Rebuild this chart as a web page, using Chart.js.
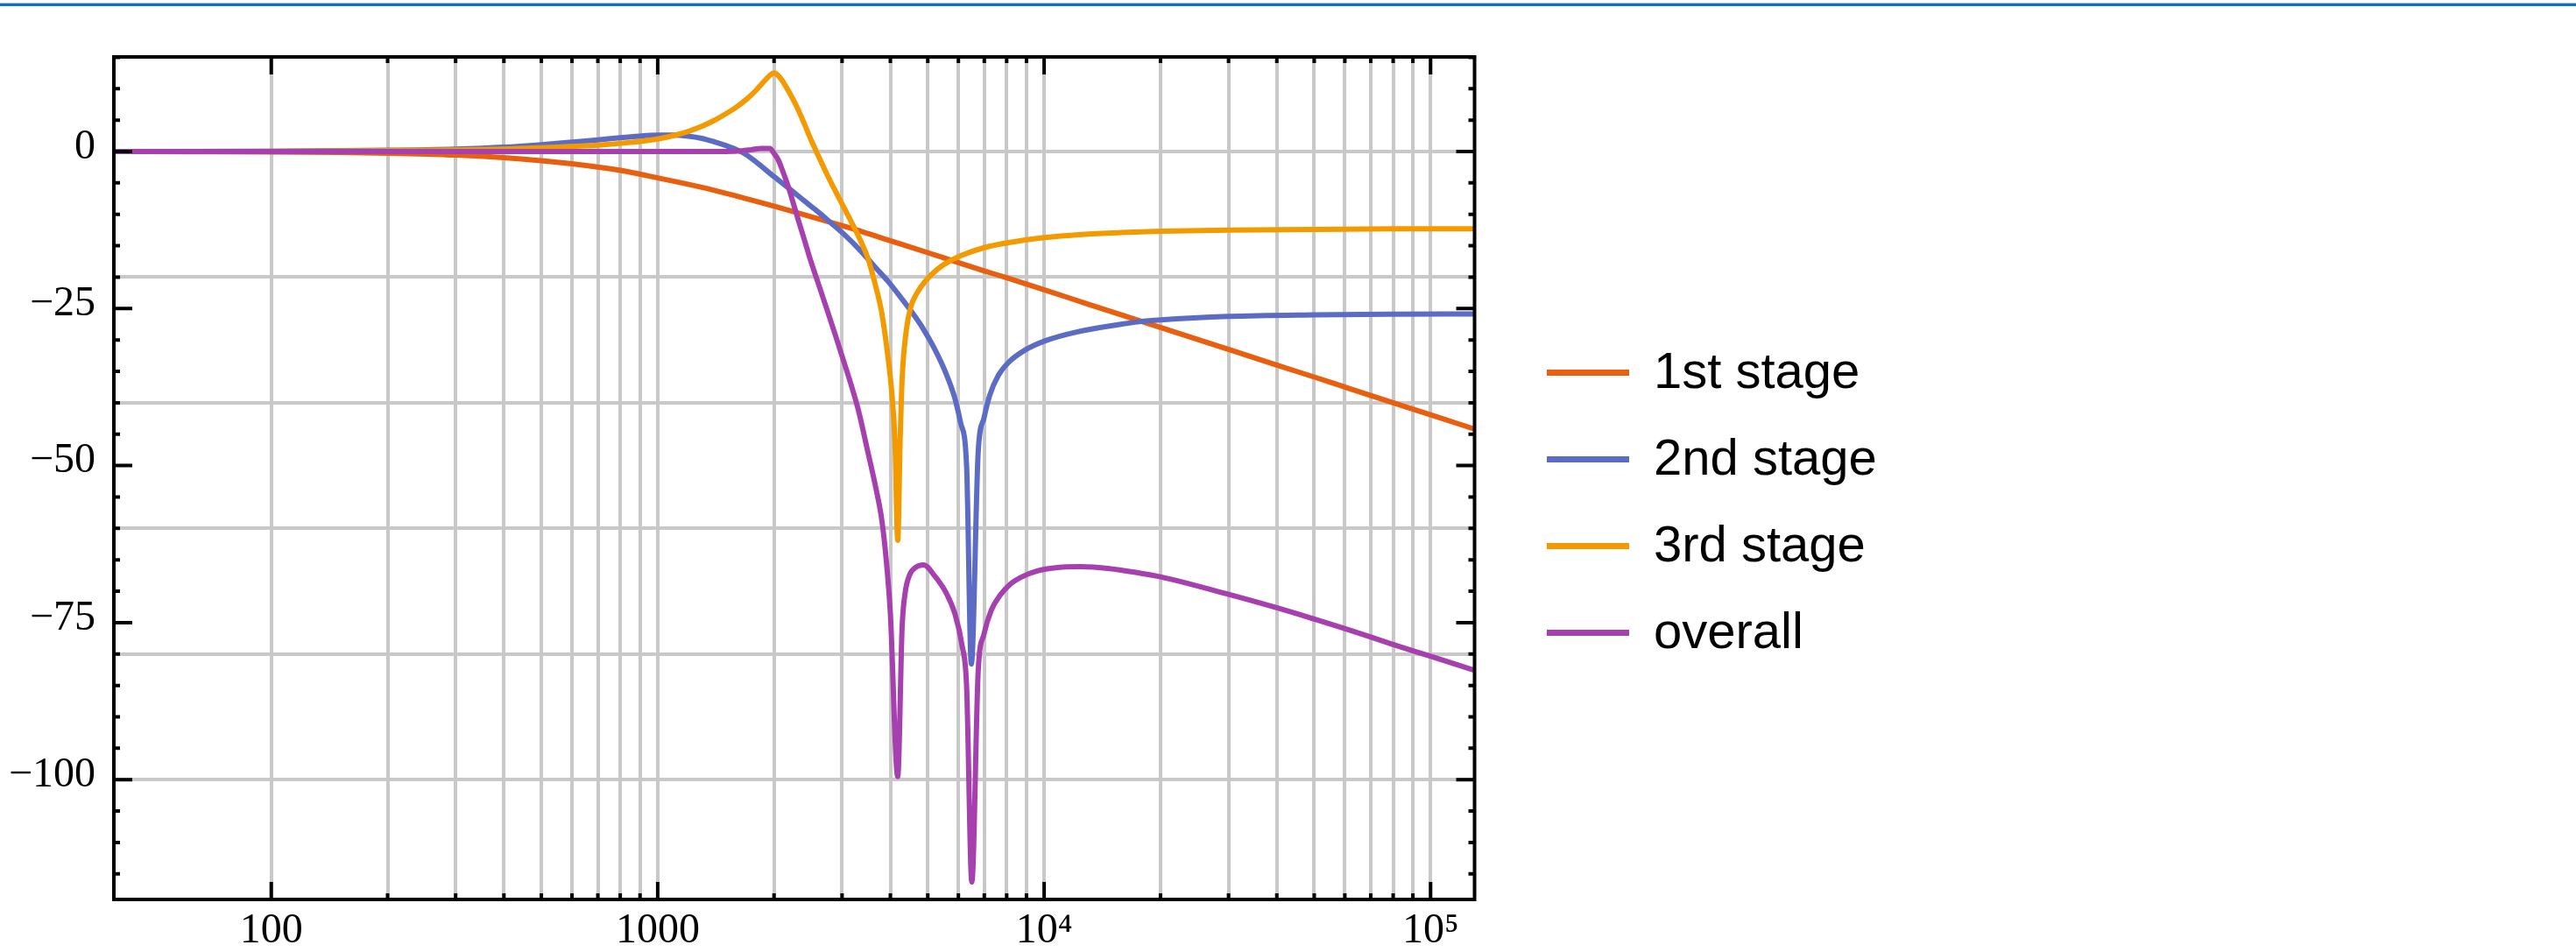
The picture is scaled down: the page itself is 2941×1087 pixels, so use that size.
<!DOCTYPE html>
<html>
<head>
<meta charset="utf-8">
<script src="https://cdn.jsdelivr.net/npm/chart.js@4.4.1/dist/chart.umd.min.js"></script>
<style>
  html, body { margin: 0; padding: 0; background: #ffffff; width: 2941px; height: 1087px; overflow: hidden; }
  #wrap { position: relative; width: 2941px; height: 1087px; }
  #c { position: absolute; left: 0; top: 0; }
  #barLight { position: absolute; left: 0; top: 3px; width: 2941px; height: 1px; background: #9fcdf1; }
  #barDark { position: absolute; left: 0; top: 4px; width: 2941px; height: 3px; background: #0b73c6; }
  .lgLine { position: absolute; left: 1766px; width: 94px; height: 7px; }
  .lgText { position: absolute; left: 1888px; font-family: "Liberation Sans", Arial, sans-serif; font-size: 58px; line-height: 58px; color: #000; white-space: nowrap; }
</style>
</head>
<body>
<div id="wrap">
  <canvas id="c" width="2941" height="1087"></canvas>
  <div id="barLight"></div>
  <div id="barDark"></div>
  <div id="legend"></div>
</div>
<script>
// ---------------- data ----------------
const seriesNames = ["1st stage", "2nd stage", "3rd stage", "overall"];

const stage1Freq = [39, 60, 100, 150, 200, 300, 400, 500, 600, 800, 1000, 1300, 1600, 2000, 2500, 3000, 3400, 4000, 5000, 6000, 7000, 8000, 10000, 13000, 16000, 20000, 30000, 40000, 50000, 60000, 80000, 100000, 130000];
const stage1Db = [0, -0.03, -0.07, -0.15, -0.26, -0.56, -0.97, -1.45, -1.94, -3.0, -4.2, -5.7, -7.1, -8.7, -10.4, -11.8, -12.8, -14.2, -16.1, -17.7, -19.0, -20.1, -22.0, -24.3, -26.1, -28.0, -31.5, -34.0, -35.9, -37.5, -40.0, -41.9, -44.2];

const stage2Freq = [39, 100, 200, 300, 400, 500, 600, 700, 800, 900, 1000, 1100, 1200, 1300, 1400, 1500, 1600, 1700, 1800, 2000, 2200, 2400, 2600, 2800, 3050, 3350, 3670, 3930, 4290, 4520, 4840, 5200, 5570, 5870, 6080, 6300, 6480, 6750, 6990, 7230, 7620, 8080, 8930, 10100, 12200, 15800, 17600, 20000, 30000, 50000, 80000, 130000];
const stage2Db = [0, 0.05, 0.2, 0.4, 0.7, 1.1, 1.5, 1.85, 2.2, 2.45, 2.6, 2.62, 2.45, 2.1, 1.55, 0.95, 0.3, -0.55, -1.7, -4.0, -6.0, -7.9, -9.6, -11.3, -13.3, -15.8, -18.55, -20.55, -23.5, -25.35, -28.0, -31.35, -35.3, -39.2, -43.2, -50.0, -81.6, -47.9, -42.4, -38.8, -35.6, -33.6, -31.6, -30.1, -28.7, -27.5, -27.1, -26.8, -26.25, -26.0, -25.9, -25.85];

const stage3Freq = [39, 100, 200, 300, 400, 550, 700, 850, 1000, 1100, 1200, 1300, 1400, 1500, 1600, 1700, 1800, 1900, 1950, 2000, 2050, 2100, 2200, 2300, 2400, 2500, 2600, 2750, 2900, 3050, 3200, 3350, 3500, 3650, 3800, 3930, 4040, 4110, 4180, 4240, 4290, 4400, 4520, 4680, 4930, 5280, 5570, 6080, 7000, 8100, 10000, 12500, 15800, 20000, 30000, 50000, 80000, 130000];
const stage3Db = [0, 0.05, 0.15, 0.25, 0.4, 0.7, 1.0, 1.45, 2.0, 2.55, 3.2, 4.0, 4.95, 6.0, 7.1, 8.35, 9.8, 11.4, 12.1, 12.5, 12.1, 11.3, 9.2, 6.9, 4.3, 1.7, -0.6, -3.8, -6.6, -9.2, -11.7, -14.2, -17.0, -21.0, -25.7, -32.0, -38.8, -46.0, -61.9, -46.0, -36.3, -28.4, -24.7, -22.6, -20.6, -18.8, -17.8, -16.6, -15.3, -14.5, -13.7, -13.2, -12.9, -12.7, -12.5, -12.4, -12.3, -12.3];

const overallFreq = [39, 300, 1000, 1500, 1650, 1750, 1850, 1950, 2000, 2050, 2100, 2180, 2240, 2290, 2350, 2410, 2480, 2600, 2730, 2880, 3030, 3190, 3310, 3480, 3670, 3800, 3900, 4000, 4180, 4290, 4370, 4480, 4680, 4880, 5200, 5570, 5870, 6130, 6300, 6500, 6750, 6990, 7300, 7680, 8160, 8760, 9560, 10600, 12400, 14750, 17600, 20000, 29600, 39800, 49800, 60400, 79300, 99300, 130000];
const overallDb = [0, 0, 0, 0, 0.1, 0.3, 0.5, 0.5, -0.3, -1.3, -2.9, -5.7, -8.1, -10.1, -12.35, -14.55, -17.1, -20.9, -24.8, -29.15, -33.4, -37.8, -41.3, -47.2, -53.6, -58.6, -64.8, -73.5, -99.5, -75.8, -70.2, -67.5, -66.1, -65.8, -67.5, -70.2, -73.5, -78.6, -85.1, -116.3, -82.8, -76.8, -73.0, -70.7, -68.9, -67.7, -66.8, -66.3, -66.1, -66.4, -67.1, -67.7, -70.4, -72.6, -74.4, -76.0, -78.4, -80.3, -82.6];

// axis ticks and labels
const xTickValues = [100, 200, 300, 400, 500, 600, 700, 800, 900, 1000, 2000, 3000, 4000, 5000, 6000, 7000, 8000, 9000, 10000, 20000, 30000, 40000, 50000, 60000, 70000, 80000, 90000, 100000];
const xLabelValues = [100, 1000, 10000, 100000];
const xLabelTexts = ["100", "1000", "10\u2074", "10\u2075"];
const yTickValues = [-115, -110, -105, -100, -95, -90, -85, -80, -75, -70, -65, -60, -55, -50, -45, -40, -35, -30, -25, -20, -15, -10, -5, 0, 5, 10, 15];
const yLabelValues = [0, -25, -50, -75, -100];
const yLabelTexts = ["0", "\u221225", "\u221250", "\u221275", "\u2212100"];
const yGridValues = [0, -20, -40, -60, -80, -100];
const xRange = [39.15, 129960];
const yRange = [-119.07, 15.06];

// ---------------- chart ----------------
function pts(fs, ds) { return fs.map((f, i) => ({ x: f, y: ds[i] })); }

const tickFont = { family: '"Liberation Serif", "Times New Roman", serif', size: 48 };

const framePlugin = {
  id: 'frameTicks',
  afterDatasetsDraw(chart) {
    const { ctx, chartArea: a, scales } = chart;
    const xs = scales.x, ys = scales.y;
    ctx.save();
    ctx.strokeStyle = '#000';
    ctx.lineWidth = 4;
    ctx.lineCap = 'butt';
    ctx.beginPath();
    xTickValues.forEach(v => {
      const px = xs.getPixelForValue(v);
      if (px < a.left || px > a.right) return;
      const len = xLabelValues.includes(v) ? 20 : 7;
      ctx.moveTo(px, a.bottom); ctx.lineTo(px, a.bottom - len);
      ctx.moveTo(px, a.top); ctx.lineTo(px, a.top + len);
    });
    yTickValues.forEach(v => {
      const py = ys.getPixelForValue(v);
      if (py < a.top || py > a.bottom) return;
      const len = yLabelValues.includes(v) ? 21 : 7;
      ctx.moveTo(a.left, py); ctx.lineTo(a.left + len, py);
      ctx.moveTo(a.right, py); ctx.lineTo(a.right - len, py);
    });
    ctx.stroke();
    ctx.lineJoin = 'miter';
    ctx.strokeRect(a.left, a.top, a.right - a.left, a.bottom - a.top);
    ctx.restore();
  }
};

const lineStyle = { borderWidth: 6, pointRadius: 0, cubicInterpolationMode: 'monotone', fill: false, borderJoinStyle: 'round', borderCapStyle: 'round' };

const chart = new Chart(document.getElementById('c'), {
  type: 'line',
  data: {
    datasets: [
      Object.assign({ label: seriesNames[0], data: pts(stage1Freq, stage1Db), borderColor: '#e8600f', order: 3 }, lineStyle),
      Object.assign({ label: seriesNames[1], data: pts(stage2Freq, stage2Db), borderColor: '#5c6cc4', order: 2 }, lineStyle),
      Object.assign({ label: seriesNames[2], data: pts(stage3Freq, stage3Db), borderColor: '#f29a00', order: 1 }, lineStyle),
      Object.assign({ label: seriesNames[3], data: pts(overallFreq, overallDb), borderColor: '#a540ae', order: 0 }, lineStyle)
    ]
  },
  options: {
    responsive: false,
    animation: false,
    devicePixelRatio: 1,
    layout: { padding: { left: 0, top: 65, right: 1257.5, bottom: 0 } },
    plugins: { legend: { display: false }, tooltip: { enabled: false }, title: { display: false } },
    scales: {
      x: {
        type: 'logarithmic',
        min: xRange[0], max: xRange[1],
        afterBuildTicks: s => { s.ticks = xTickValues.map(v => ({ value: v })); },
        afterFit: s => { s.height = 60; },
        grid: { color: '#c8c8c8', lineWidth: 4, drawTicks: false },
        border: { display: false },
        ticks: {
          autoSkip: false, maxRotation: 0, minRotation: 0, padding: 8, color: '#000', font: tickFont,
          callback: v => { const i = xLabelValues.indexOf(v); return i >= 0 ? xLabelTexts[i] : ''; }
        }
      },
      y: {
        type: 'linear',
        min: yRange[0], max: yRange[1],
        afterBuildTicks: s => { s.ticks = yTickValues.map(v => ({ value: v })); },
        afterFit: s => { s.width = 130; },
        grid: {
          color: c => (c.tick && yGridValues.includes(c.tick.value)) ? '#c8c8c8' : 'rgba(0,0,0,0)',
          lineWidth: 4, drawTicks: false
        },
        border: { display: false },
        ticks: {
          autoSkip: false, padding: 21, labelOffset: -5, color: '#000', font: tickFont,
          callback: v => { const i = yLabelValues.indexOf(v); return i >= 0 ? yLabelTexts[i] : ''; }
        }
      }
    }
  },
  plugins: [framePlugin]
});

// ---------------- legend (HTML, built from the datasets) ----------------
const legendEl = document.getElementById('legend');
chart.data.datasets.forEach((ds, i) => {
  const line = document.createElement('div');
  line.className = 'lgLine';
  line.style.top = (421.8 + 99 * i) + 'px';
  line.style.background = ds.borderColor;
  legendEl.appendChild(line);
  const txt = document.createElement('div');
  txt.className = 'lgText';
  txt.style.top = (394.2 + 99 * i) + 'px';
  txt.textContent = ds.label;
  legendEl.appendChild(txt);
});
</script>
</body>
</html>
